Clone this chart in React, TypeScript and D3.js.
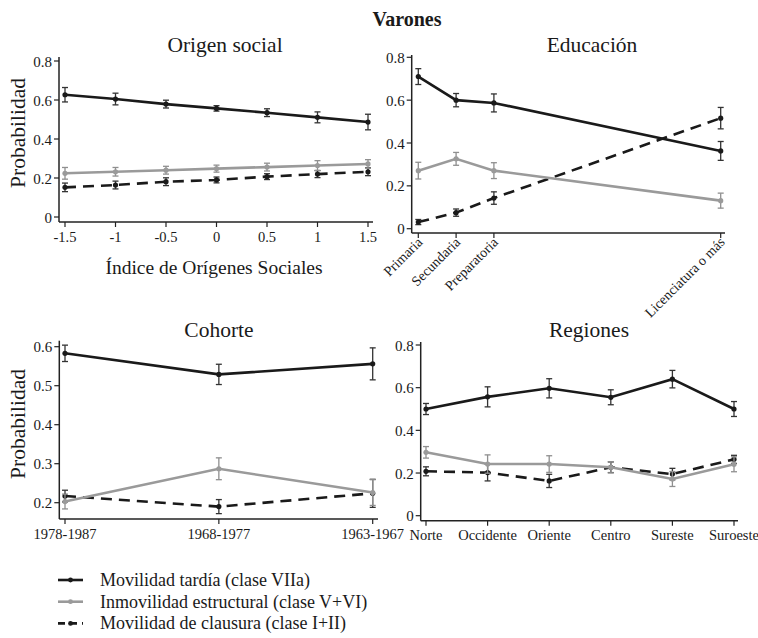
import React from "react";
import * as d3 from "d3";

const FONT = "'Liberation Serif', 'Times New Roman', serif";

// ---------- data ----------
const seriesNames = [
  "Movilidad tardía (clase VIIa)",
  "Inmovilidad estructural (clase V+VI)",
  "Movilidad de clausura (clase I+II)",
];

const origenX = [-1.5, -1, -0.5, 0, 0.5, 1, 1.5];
const origenTicks = ["-1.5", "-1", "-0.5", "0", "0.5", "1", "1.5"];
const origenTardia = [0.627, 0.605, 0.579, 0.557, 0.535, 0.511, 0.487];
const origenTardiaErr = [0.037, 0.03, 0.02, 0.014, 0.02, 0.028, 0.04];
const origenInmov = [0.224, 0.232, 0.24, 0.248, 0.256, 0.264, 0.272];
const origenInmovErr = [0.03, 0.022, 0.02, 0.018, 0.02, 0.025, 0.022];
const origenClausura = [0.152, 0.164, 0.181, 0.19, 0.207, 0.22, 0.232];
const origenClausuraErr = [0.022, 0.02, 0.02, 0.015, 0.015, 0.018, 0.02];

const educCats = ["Primaria", "Secundaria", "Preparatoria", "Licenciatura o más"];
const educPos = [1, 2, 3, 9];
const educTardia = [0.71, 0.6, 0.587, 0.363];
const educTardiaErr = [0.037, 0.031, 0.042, 0.044];
const educInmov = [0.271, 0.326, 0.271, 0.131];
const educInmovErr = [0.039, 0.03, 0.037, 0.035];
const educClausura = [0.031, 0.075, 0.143, 0.516];
const educClausuraErr = [0.012, 0.017, 0.029, 0.05];

const cohCats = ["1978-1987", "1968-1977", "1963-1967"];
const cohPos = [1, 2, 3];
const cohTardia = [0.583, 0.529, 0.556];
const cohTardiaErr = [0.021, 0.026, 0.041];
const cohInmov = [0.203, 0.287, 0.226];
const cohInmovErr = [0.019, 0.028, 0.033];
const cohClausura = [0.217, 0.19, 0.224];
const cohClausuraErr = [0.015, 0.018, 0.036];

const regCats = ["Norte", "Occidente", "Oriente", "Centro", "Sureste", "Suroeste"];
const regPos = [1, 2, 3, 4, 5, 6];
const regTardia = [0.5, 0.557, 0.597, 0.555, 0.64, 0.5];
const regTardiaErr = [0.026, 0.047, 0.045, 0.035, 0.041, 0.035];
const regInmov = [0.297, 0.242, 0.242, 0.227, 0.172, 0.241];
const regInmovErr = [0.027, 0.043, 0.039, 0.026, 0.035, 0.035];
const regClausura = [0.208, 0.202, 0.163, 0.227, 0.195, 0.264];
const regClausuraErr = [0.021, 0.039, 0.031, 0.025, 0.027, 0.019];

const ticks08 = [0, 0.2, 0.4, 0.6, 0.8];
const ticksCoh = [0.2, 0.3, 0.4, 0.5, 0.6];

// ---------- styles ----------
const STYLES = [
  { color: "#1a1a1a", err: "#333", dash: "none" },
  { color: "#9a9a9a", err: "#8f8f8f", dash: "none" },
  { color: "#1a1a1a", err: "#333", dash: "11,7" },
];
const DRAW_ORDER = [0, 2, 1];

type PanelProps = {
  title: string;
  titleX: number;
  titleY: number;
  xs: number[];
  xLabels: string[];
  xDomain: [number, number];
  xRange: [number, number];
  yDomain: [number, number];
  yRange: [number, number];
  yTicks: number[];
  axisX: number;
  axisY: number;
  axisTop: number;
  axisRight: number;
  series: number[][];
  errs: number[][];
  rotated?: boolean;
  yLabel?: { x: number; y: number };
  xTitle?: { text: string; x: number; y: number };
};

function fmtY(d: number) {
  return d === 0 ? "0" : d.toFixed(1);
}

function Panel(p: PanelProps) {
  const x = d3.scaleLinear().domain(p.xDomain).range(p.xRange);
  const y = d3.scaleLinear().domain(p.yDomain).range(p.yRange);
  const line = d3
    .line<[number, number]>()
    .x((d) => x(d[0]))
    .y((d) => y(d[1]));
  return (
    <g>
      <text x={p.titleX} y={p.titleY} textAnchor="middle" fontSize={21.5} fontFamily={FONT} fill="#1a1a1a">
        {p.title}
      </text>
      {p.yLabel && (
        <text
          transform={`translate(${p.yLabel.x},${p.yLabel.y}) rotate(-90)`}
          textAnchor="middle"
          fontSize={21.5}
          fontFamily={FONT}
          fill="#1a1a1a"
        >
          Probabilidad
        </text>
      )}
      {/* axes */}
      <line x1={p.axisX} x2={p.axisX} y1={p.axisTop} y2={p.axisY} stroke="#222" strokeWidth={1.5} />
      <line x1={p.axisX} x2={p.axisRight} y1={p.axisY} y2={p.axisY} stroke="#222" strokeWidth={1.5} />
      {p.yTicks.map((t) => (
        <g key={"yt" + t}>
          <line x1={p.axisX - 5} x2={p.axisX} y1={y(t)} y2={y(t)} stroke="#222" strokeWidth={1.2} />
          <text x={p.axisX - 7} y={y(t) + 5.5} textAnchor="end" fontSize={15} fontFamily={FONT} fill="#1a1a1a">
            {fmtY(t)}
          </text>
        </g>
      ))}
      {p.xs.map((v, i) => (
        <g key={"xt" + i}>
          <line x1={x(v)} x2={x(v)} y1={p.axisY} y2={p.axisY + 5} stroke="#222" strokeWidth={1.2} />
          {p.rotated ? (
            <text
              transform={`translate(${x(v) + 5},${p.axisY + 10}) rotate(-45)`}
              textAnchor="end"
              fontSize={14}
              fontFamily={FONT}
              fill="#1a1a1a"
            >
              {p.xLabels[i]}
            </text>
          ) : (
            <text x={x(v)} y={p.axisY + 19.5} textAnchor="middle" fontSize={14.5} fontFamily={FONT} fill="#1a1a1a">
              {p.xLabels[i]}
            </text>
          )}
        </g>
      ))}
      {p.xTitle && (
        <text x={p.xTitle.x} y={p.xTitle.y} textAnchor="middle" fontSize={19.5} fontFamily={FONT} fill="#1a1a1a">
          {p.xTitle.text}
        </text>
      )}
      {/* series */}
      {DRAW_ORDER.map((si) => {
        const st = STYLES[si];
        const vals = p.series[si];
        const errs = p.errs[si];
        const pts: [number, number][] = p.xs.map((v, i) => [v, vals[i]]);
        return (
          <g key={"s" + si}>
            <path
              d={line(pts) || ""}
              fill="none"
              stroke={st.color}
              strokeWidth={2.6}
              strokeDasharray={st.dash}
            />
            {pts.map((pt, i) => {
              const cx = x(pt[0]);
              const y1 = y(pt[1] + errs[i]);
              const y2 = y(pt[1] - errs[i]);
              return (
                <g key={i}>
                  <line x1={cx} x2={cx} y1={y1} y2={y2} stroke={st.err} strokeWidth={1.3} />
                  <line x1={cx - 3} x2={cx + 3} y1={y1} y2={y1} stroke={st.err} strokeWidth={1.3} />
                  <line x1={cx - 3} x2={cx + 3} y1={y2} y2={y2} stroke={st.err} strokeWidth={1.3} />
                  <circle cx={cx} cy={y(pt[1])} r={2.6} fill={st.color} />
                </g>
              );
            })}
          </g>
        );
      })}
    </g>
  );
}

export default function App() {
  return (
    <svg
      width={758}
      height={638}
      style={{ position: "absolute", left: 0, top: 0, background: "#fff" }}
    >
      <rect width={758} height={638} fill="#fff" />
      <text x={407} y={26} textAnchor="middle" fontSize={20} fontWeight="bold" fontFamily={FONT} fill="#1a1a1a">
        Varones
      </text>
      <Panel
        title="Origen social"
        titleX={225}
        titleY={52}
        xs={origenX}
        xLabels={origenTicks}
        xDomain={[-1.5, 1.5]}
        xRange={[65, 368]}
        yDomain={[0, 0.8]}
        yRange={[217, 61]}
        yTicks={ticks08}
        axisX={59}
        axisY={222}
        axisTop={57}
        axisRight={373}
        series={[origenTardia, origenInmov, origenClausura]}
        errs={[origenTardiaErr, origenInmovErr, origenClausuraErr]}
        yLabel={{ x: 25, y: 133 }}
        xTitle={{ text: "Índice de Orígenes Sociales", x: 214, y: 274 }}
      />
      <Panel
        title="Educación"
        titleX={592}
        titleY={52}
        xs={educPos}
        xLabels={educCats}
        xDomain={[1, 9]}
        xRange={[418.3, 720.7]}
        yDomain={[0, 0.8]}
        yRange={[228.7, 57.3]}
        yTicks={ticks08}
        axisX={411.7}
        axisY={233}
        axisTop={55}
        axisRight={725}
        series={[educTardia, educInmov, educClausura]}
        errs={[educTardiaErr, educInmovErr, educClausuraErr]}
        rotated
      />
      <Panel
        title="Cohorte"
        titleX={219}
        titleY={337}
        xs={cohPos}
        xLabels={cohCats}
        xDomain={[1, 3]}
        xRange={[65, 372.7]}
        yDomain={[0.2, 0.6]}
        yRange={[502.7, 346.7]}
        yTicks={ticksCoh}
        axisX={59.3}
        axisY={519}
        axisTop={340.7}
        axisRight={378}
        series={[cohTardia, cohInmov, cohClausura]}
        errs={[cohTardiaErr, cohInmovErr, cohClausuraErr]}
        yLabel={{ x: 25, y: 424 }}
      />
      <Panel
        title="Regiones"
        titleX={589}
        titleY={337}
        xs={regPos}
        xLabels={regCats}
        xDomain={[1, 6]}
        xRange={[426, 734]}
        yDomain={[0, 0.8]}
        yRange={[515.7, 345]}
        yTicks={ticks08}
        axisX={420.7}
        axisY={520.7}
        axisTop={342}
        axisRight={738}
        series={[regTardia, regInmov, regClausura]}
        errs={[regTardiaErr, regInmovErr, regClausuraErr]}
      />
      {/* legend */}
      {seriesNames.map((name, i) => {
        const st = STYLES[i];
        const cy = 580 + i * 21.7;
        return (
          <g key={"lg" + i}>
            <line
              x1={58}
              x2={83}
              y1={cy}
              y2={cy}
              stroke={st.color}
              strokeWidth={2.6}
              strokeDasharray={i === 2 ? "7,5" : "none"}
            />
            <circle cx={70.5} cy={cy} r={2.4} fill={st.color} />
            <text x={100} y={cy + 6} fontSize={18} fontFamily={FONT} fill="#1a1a1a">
              {name}
            </text>
          </g>
        );
      })}
    </svg>
  );
}
